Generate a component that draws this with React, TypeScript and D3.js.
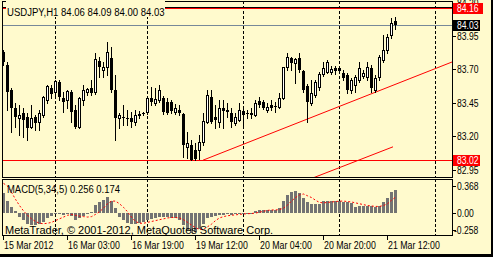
import React from "react";
import * as d3 from "d3";

const W = 493;
const H = 257;

const symbolTitle = "USDJPY,H1";
const opens = [83.83,83.733,83.545,83.411,83.336,83.373,83.343,83.268,83.343,83.306,
83.358,83.47,83.56,83.53,83.605,83.486,83.47,83.53,83.396,83.268,
83.47,83.53,83.56,83.53,83.763,83.695,83.718,83.785,83.545,83.336,
83.343,83.336,83.336,83.306,83.366,83.373,83.381,83.486,83.448,83.47,
83.486,83.456,83.456,83.381,83.396,83.366,83.119,83.134,83.096,83.096,
83.156,83.306,83.493,83.343,83.306,83.411,83.396,83.373,83.298,83.321,
83.388,83.373,83.373,83.358,83.463,83.456,83.396,83.433,83.426,83.418,
83.486,83.718,83.785,83.748,83.785,83.688,83.575,83.448,83.508,83.568,
83.665,83.68,83.68,83.71,83.71,83.673,83.658,83.545,83.583,83.62,
83.65,83.643,83.71,83.545,83.643,83.77,83.845,83.957,84.06];
const highs = [83.845,83.755,83.56,83.448,83.433,83.411,83.373,83.433,83.358,83.396,
83.5,83.583,83.583,83.62,83.62,83.53,83.545,83.545,83.433,83.493,
83.583,83.56,83.62,83.823,83.793,83.755,83.905,83.868,83.658,83.373,
83.433,83.396,83.381,83.396,83.388,83.381,83.486,83.568,83.56,83.583,
83.5,83.486,83.47,83.44,83.433,83.373,83.231,83.171,83.149,83.208,
83.373,83.545,83.545,83.433,83.47,83.47,83.448,83.411,83.373,83.448,
83.411,83.396,83.411,83.47,83.493,83.47,83.448,83.47,83.456,83.523,
83.718,83.823,83.793,83.785,83.823,83.695,83.59,83.62,83.62,83.68,
83.755,83.77,83.725,83.725,83.725,83.695,83.673,83.635,83.658,83.755,
83.695,83.755,83.733,83.658,83.808,83.957,83.965,84.085,84.09];
const lows = [83.733,83.396,83.231,83.268,83.208,83.193,83.171,83.261,83.246,83.246,
83.343,83.448,83.486,83.508,83.47,83.381,83.411,83.306,83.261,83.261,
83.433,83.508,83.508,83.516,83.643,83.643,83.658,83.53,83.171,83.261,
83.283,83.283,83.268,83.283,83.336,83.358,83.366,83.433,83.433,83.456,
83.366,83.366,83.373,83.366,83.358,83.044,83.037,83.02,83.02,83.03,
83.134,83.298,83.298,83.261,83.268,83.261,83.343,83.268,83.283,83.313,
83.283,83.336,83.336,83.351,83.418,83.403,83.381,83.396,83.381,83.411,
83.478,83.695,83.695,83.598,83.68,83.53,83.306,83.433,83.493,83.545,
83.65,83.673,83.665,83.665,83.673,83.62,83.523,83.523,83.53,83.605,
83.635,83.62,83.53,83.53,83.62,83.755,83.823,83.935,84.0];
const closes = [83.755,83.53,83.411,83.343,83.358,83.321,83.261,83.336,83.298,83.373,
83.493,83.575,83.516,83.613,83.493,83.456,83.538,83.381,83.268,83.486,
83.545,83.553,83.523,83.778,83.718,83.718,83.83,83.545,83.336,83.358,
83.336,83.328,83.306,83.358,83.351,83.366,83.486,83.456,83.478,83.545,
83.381,83.373,83.388,83.411,83.373,83.134,83.149,83.025,83.03,83.156,
83.313,83.508,83.306,83.321,83.411,83.388,83.381,83.306,83.343,83.396,
83.358,83.366,83.358,83.448,83.433,83.411,83.418,83.411,83.418,83.486,
83.718,83.793,83.748,83.778,83.695,83.545,83.456,83.523,83.605,83.665,
83.71,83.755,83.703,83.688,83.688,83.635,83.545,83.62,83.643,83.71,
83.673,83.718,83.56,83.635,83.793,83.845,83.943,84.047,84.03];

const macdHist = [0.217,0.128,0.058,0.023,-0.047,-0.085,-0.124,-0.136,-0.136,-0.124,
-0.105,-0.066,-0.039,-0.015,-0.005,-0.027,-0.02,-0.04,-0.085,-0.058,
-0.035,-0.02,0.012,0.089,0.12,0.14,0.174,0.128,0.05,-0.047,
-0.085,-0.116,-0.124,-0.124,-0.116,-0.105,-0.085,-0.074,-0.066,-0.054,
-0.054,-0.047,-0.058,-0.066,-0.085,-0.143,-0.194,-0.233,-0.22,-0.18,
-0.124,-0.066,-0.047,-0.035,-0.027,-0.027,-0.02,-0.027,-0.02,-0.01,
-0.01,-0.008,-0.005,0.02,0.03,0.03,0.03,0.03,0.035,0.05,
0.128,0.194,0.233,0.244,0.217,0.167,0.116,0.1,0.1,0.1,
0.128,0.13,0.13,0.13,0.13,0.124,0.116,0.105,0.066,0.08,
0.08,0.08,0.07,0.058,0.07,0.116,0.163,0.229,0.256];
const macdSignal = [0.33,0.30,0.23,0.15,0.08,0.02,-0.03,-0.07,-0.10,-0.12,
-0.125,-0.12,-0.11,-0.09,-0.07,-0.05,-0.03,-0.02,-0.03,-0.04,
-0.045,-0.05,-0.045,-0.02,0.01,0.05,0.10,0.13,0.13,0.10,
0.06,0.01,-0.05,-0.10,-0.12,-0.12,-0.11,-0.10,-0.09,-0.08,
-0.07,-0.06,-0.055,-0.055,-0.06,-0.08,-0.11,-0.14,-0.17,-0.19,
-0.19,-0.16,-0.13,-0.09,-0.06,-0.045,-0.035,-0.03,-0.025,-0.02,
-0.015,-0.012,-0.01,-0.005,0.005,0.015,0.025,0.03,0.03,0.035,
0.05,0.085,0.13,0.17,0.20,0.21,0.19,0.17,0.14,0.115,
0.11,0.115,0.12,0.125,0.13,0.13,0.125,0.12,0.11,0.10,
0.09,0.08,0.075,0.07,0.07,0.08,0.10,0.14,0.174];
const macdTitle = "MACD(5,34,5) 0.256 0.174";
const copyright = "MetaTrader, \u00a9 2001-2012, MetaQuotes Software Corp.";

const timeLabels = ["15 Mar 2012", "16 Mar 03:00", "16 Mar 19:00", "19 Mar 12:00", "20 Mar 04:00", "20 Mar 20:00", "21 Mar 12:00"];
const timeLabelBars = [0, 16, 32, 48, 64, 80, 96];
const gridBars = [13, 36, 60, 84, 108];
const priceTicks = [84.2, 83.95, 83.7, 83.45, 83.2, 82.95];
const macdTicks = [0.368, 0, -0.258];
const macdTickLabels = ["0.368", "0.00", "-0.258"];
const priceDomain = [82.894, 84.212];
const macdDomain = [-0.258, 0.368];
const bidPrice = 84.03;
const blackLevel = 84.17;
const redLevels = [84.16, 83.02];
const trend1 = [[50, 83.02], [97, 83.575]];
const trend2 = [[70, 82.8], [97.5, 83.12]];

const BG = "#FFFACD";
const FONT = "'Liberation Sans', Arial, sans-serif";

const L = 2, R = 452, MT = 1, MB = 177, IT = 179, IB = 235;

function Txt({ x, y, s, size = 10, sx = 0.86, fill = "#000" }: any) {
  return (
    <text transform={`translate(${x},${y}) scale(${sx},1)`} fontSize={size} fontFamily={FONT} fill={fill}>
      {s}
    </text>
  );
}

export default function App() {
  const n = opens.length;
  const x = d3.scaleLinear().domain([0, n - 1]).range([3, 3 + 4 * (n - 1)]);
  const y = d3.scaleLinear().domain(priceDomain).range([MB, MT]);
  const ym = d3.scaleLinear().domain(macdDomain).range([IB + 0.5, IT + 1]);
  const px = (i: number) => Math.round(x(i));
  const py = (p: number) => Math.round(y(p));

  const candles = opens.map((o, i) => {
    const c = px(i);
    const cl = closes[i];
    const top = py(Math.max(o, cl));
    const bot = py(Math.min(o, cl));
    const bull = cl > o;
    return (
      <g key={i}>
        <line x1={c + 0.5} x2={c + 0.5} y1={py(highs[i])} y2={py(lows[i]) + 1} stroke="#000" strokeWidth={1} />
        {bull ? (
          bot - top >= 2 ? (
            <rect x={c - 0.5} y={top + 0.5} width={2} height={bot - top} fill="#fff" stroke="#000" strokeWidth={1} />
          ) : (
            <rect x={c - 1} y={top} width={3} height={Math.max(bot - top, 1) + 1} fill="#000" />
          )
        ) : (
          <rect x={c - 1} y={top} width={3} height={Math.max(bot - top, 1)} fill="#000" />
        )}
      </g>
    );
  });

  const extendLine = (pts: number[][], toRight: boolean) => {
    const [[i1, p1], [i2, p2]] = pts;
    const x1 = x(i1), y1 = y(p1), x2 = x(i2), y2 = y(p2);
    if (!toRight) return { x1, y1, x2, y2 };
    const slope = (y2 - y1) / (x2 - x1);
    return { x1, y1, x2: R, y2: y1 + slope * (R - x1) };
  };
  const t1 = extendLine(trend1, true);
  const t2 = extendLine(trend2, false);

  const signalPath = d3.line<number>().x((_, i) => x(i) + 0.5).y((v) => ym(v))(macdSignal) || "";
  const zeroY = Math.round(ym(0));

  const lastO = opens[n - 1], lastH = highs[n - 1], lastL = lows[n - 1], lastC = closes[n - 1];
  const title = `${symbolTitle} ${lastO.toFixed(2)} ${lastH.toFixed(2)} ${lastL.toFixed(2)} ${lastC.toFixed(2)}`;

  return (
    <svg width={W} height={H} style={{ position: "absolute", left: 0, top: 0, display: "block" }} shapeRendering="crispEdges">
      <defs>
        <clipPath id="mainClip"><rect x={L} y={MT} width={R - L} height={MB - MT} /></clipPath>
        <clipPath id="indClip"><rect x={L} y={IT} width={R - L} height={IB - IT} /></clipPath>
      </defs>
      <rect x={0} y={0} width={W} height={H} fill={BG} />

      {/* main window */}
      <g clipPath="url(#mainClip)">
        {gridBars.map((b) => (
          <line key={b} x1={px(b) + 0.5} x2={px(b) + 0.5} y1={MT} y2={MB} stroke="#000" strokeDasharray="3,2" />
        ))}
        <line x1={L} x2={R} y1={py(blackLevel) + 0.5} y2={py(blackLevel) + 0.5} stroke="#000" />
        {redLevels.map((p) => (
          <line key={p} x1={L} x2={R} y1={py(p) + 0.5} y2={py(p) + 0.5} stroke="#FF0000" />
        ))}
        <line x1={L} x2={R} y1={py(bidPrice) + 0.5} y2={py(bidPrice) + 0.5} stroke="#778899" />
        <line {...t1} stroke="#FF0000" strokeWidth={1} shapeRendering="auto" />
        <line {...t2} stroke="#FF0000" strokeWidth={1} shapeRendering="auto" />
        {candles}
      </g>
      <rect x={6} y={0} width={159} height={17} fill={BG} />
      <Txt x={7} y={16} s={title} size={11} sx={0.87} />

      {/* indicator window */}
      <g clipPath="url(#indClip)">
        {gridBars.map((b) => (
          <line key={b} x1={px(b) + 0.5} x2={px(b) + 0.5} y1={IT} y2={IB} stroke="#000" strokeDasharray="3,2" />
        ))}
        {macdHist.map((v, i) => {
          const yv = Math.round(ym(v));
          return (
            <rect key={i} x={px(i) - 1} y={Math.min(yv, zeroY)} width={3} height={Math.max(Math.abs(yv - zeroY), 1)} fill="#737373" />
          );
        })}
        <path d={signalPath} fill="none" stroke="#FF0000" strokeWidth={1} strokeDasharray="2,2" shapeRendering="auto" />
      </g>
      <Txt x={7} y={193} s={macdTitle} size={11} sx={0.86} />
      <text x={5} y={234} fontSize={11} fontFamily={FONT} fill="#000">{copyright}</text>

      {/* frames */}
      <rect x={L + 0.5} y={MT + 0.5} width={R - L} height={MB - MT} fill="none" stroke="#000" />
      <rect x={L + 0.5} y={IT + 0.5} width={R - L} height={IB - IT} fill="none" stroke="#000" />
      <rect x={6} y={0} width={159} height={1.5} fill={BG} />

      {/* price scale */}
      {priceTicks.map((p) => (
        <g key={p}>
          <line x1={R + 1} x2={R + 4} y1={py(p) + 0.5} y2={py(p) + 0.5} stroke="#000" />
          <Txt x={457} y={py(p) + 4} s={p.toFixed(2)} size={10} sx={0.86} />
        </g>
      ))}
      <rect x={453} y={py(redLevels[0]) - 5} width={30} height={11} fill="#FF0000" />
      <Txt x={457} y={py(redLevels[0]) + 4} s={redLevels[0].toFixed(2)} size={10} sx={0.86} fill="#fff" />
      <rect x={453} y={py(bidPrice) - 5} width={27} height={11} fill="#000" />
      <Txt x={457} y={py(bidPrice) + 4} s={bidPrice.toFixed(2)} size={10} sx={0.86} fill="#fff" />
      <rect x={453} y={py(redLevels[1]) - 5} width={27} height={11} fill="#FF0000" />
      <Txt x={457} y={py(redLevels[1]) + 4} s={redLevels[1].toFixed(2)} size={10} sx={0.86} fill="#fff" />

      {/* macd scale */}
      {macdTicks.map((v, k) => {
        const yy = k === 0 ? Math.round(ym(v)) + 6 : k === 2 ? Math.round(ym(v)) - 6 : Math.round(ym(v));
        return (
          <g key={k}>
            <line x1={R + 1} x2={R + 4} y1={yy + 0.5} y2={yy + 0.5} stroke="#000" />
            <Txt x={v < 0 ? 454 : 457} y={yy + 4} s={macdTickLabels[k]} size={10} sx={0.86} />
          </g>
        );
      })}

      {/* time axis */}
      {timeLabelBars.map((b, k) => (
        <g key={b}>
          <line x1={px(b) + 0.5} x2={px(b) + 0.5} y1={IB} y2={IB + 5} stroke="#000" />
          <Txt x={px(b) + 1} y={249} s={timeLabels[k]} size={10} sx={0.88} />
        </g>
      ))}

      {/* outer frame */}
      <rect x={0} y={254} width={W} height={3} fill="#000" />
      <rect x={491} y={0} width={2} height={H} fill="#000" />
    </svg>
  );
}
